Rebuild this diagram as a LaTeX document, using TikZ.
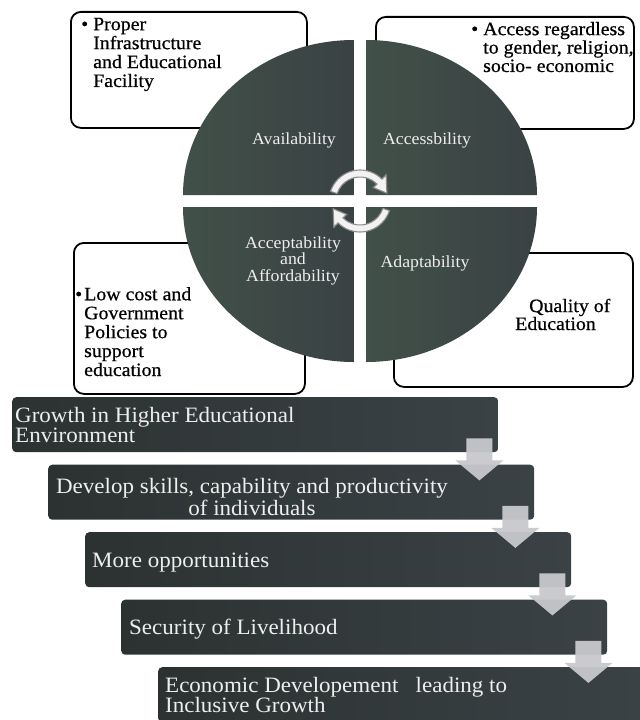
\documentclass[tikz,border=0pt]{standalone}
\usepackage{fontspec}
\setmainfont{Liberation Serif}
\newfontfamily\labelfont[FakeStretch=1.05]{Liberation Serif}
\newfontfamily\notefont[FakeStretch=1.05, FakeBold=0.6]{Liberation Serif}
\usetikzlibrary{calc}

\definecolor{quadlight}{HTML}{415048}
\definecolor{quaddark}{HTML}{3A4244}
\definecolor{stageleft}{HTML}{2C3231}
\definecolor{stagemid}{HTML}{4A574E}
\definecolor{stageright}{HTML}{3A4246}
\definecolor{paletext}{HTML}{EEEEEE}
\definecolor{arrowgrey}{HTML}{C8C8CC}

\tikzset{
  notebox/.style={draw=black, line width=1.8bp, rounded corners=10bp, fill=white,
    anchor=north west, inner sep=0pt},
  notetext/.style={inner sep=0pt, anchor=base west, align=left,
    font=\notefont\fontsize{19}{19}\selectfont},
  quad/.style={left color=quadlight, right color=quaddark},
  quadtext/.style={inner sep=0pt, anchor=base, align=center, text=paletext,
    font=\labelfont\fontsize{17}{16.5}\selectfont},
  stage/.style={rectangle, rounded corners=4bp, minimum width=486bp, minimum height=55bp,
    anchor=north west, inner sep=0pt, left color=stageleft, middle color=stagemid,
    right color=stageright},
  stagetext/.style={inner sep=0pt, anchor=base west, align=left, text=paletext,
    font=\labelfont\fontsize{22}{20.5}\selectfont},
  flowarrow/.style={fill=arrowgrey, fill opacity=0.95},
  cyclearrow/.style={fill=white!90!gray, draw=gray!90, line width=1.1bp},
}

% block arrow hanging from the lower right of a stage into the next one
\newcommand\stagearrow[1]{%
  \fill[flowarrow] ($(#1.south east)+(-32,-14)$) -- ++(26,0) -- ++(0,22) -- ++(11,0)
    -- ++(-24,20) -- ++(-24,-20) -- ++(11,0) -- cycle;}

\begin{document}
\begin{tikzpicture}[x=1bp, y=-1bp]
\useasboundingbox (0,0) rectangle (640,720);
\clip (0,0) rectangle (640,720);

% ---- side notes around the wheel ----
\node[notebox, minimum width=236bp, minimum height=116bp] (infraBox) at (70,11) {};
\node[notebox, minimum width=258bp, minimum height=112bp] (accessBox) at (375,16) {};
\node[notebox, minimum width=231bp, minimum height=151bp] (costBox) at (73,242) {};
\node[notebox, minimum width=239bp, minimum height=134bp] (qualityBox) at (393,252) {};

% multi-line texts are placed by the baseline of their last line
\node[notetext] (infraText) at (93,87)
  {\llap{\textbullet\hspace{5bp}}Proper\\Infrastructure\\and Educational\\Facility};
\node[notetext, font=\notefont\fontsize{19}{18.5}\selectfont] (accessText) at (483,72)
  {\llap{\textbullet\hspace{5bp}}Access regardless\\to gender, religion,\\socio- economic};
\node[notetext] (costText) at (84,376)
  {\llap{\textbullet\hspace{2bp}}Low cost and\\Government\\Policies to\\support\\education};
\node[notetext, font=\notefont\fontsize{19}{18}\selectfont] (qualityText) at (515,330)
  {\hspace*{14bp}Quality of\\Education};

% ---- the four quarters of the wheel ----
\path[quad] (354,195) -- ++(-171,0) arc[start angle=180, end angle=270, x radius=171, y radius=155] -- cycle;
\path[quad] (366,195) -- ++(0,-155) arc[start angle=270, end angle=360, x radius=171, y radius=155] -- cycle;
\path[quad] (366,207) -- ++(171,0) arc[start angle=0, end angle=90, x radius=171, y radius=155] -- cycle;
\path[quad] (354,207) -- ++(0,155) arc[start angle=90, end angle=180, x radius=171, y radius=155] -- cycle;

\node[quadtext] (availability) at (294,144) {Availability};
\node[quadtext] (accessibility) at (427,144) {Accessbility};
\node[quadtext] (acceptability) at (293,281) {Acceptability\\and\\Affordability};
\node[quadtext] (adaptability) at (425,267) {Adaptability};

% ---- cycle arrows in the middle of the wheel ----
\begin{scope}[shift={(360,201)}, yscale=-1]
  \path[cyclearrow] (162:24) arc[start angle=162, end angle=45, radius=24]
    -- (45:19) -- (16:28) -- (45:37) -- (45:31)
    arc[start angle=45, end angle=162, radius=31] -- cycle;
  \path[cyclearrow] (-18:24) arc[start angle=-18, end angle=-135, radius=24]
    -- (-135:19) -- (-164:28) -- (-135:37) -- (-135:31)
    arc[start angle=-135, end angle=-18, radius=31] -- cycle;
\end{scope}

% ---- staircase of outcomes ----
\node[stage] (growth) at (12,397) {};
\node[stage] (skills) at (48,464.5) {};
\node[stage] (opportunities) at (85,532) {};
\node[stage] (security) at (121,599.5) {};
\node[stage] (economic) at (158,667) {};

\node[stagetext] (growthText) at (15,442.5) {Growth in Higher Educational\\Environment};
\node[stagetext, anchor=base, align=center, font=\labelfont\fontsize{22}{22}\selectfont]
  (skillsText) at (252,515) {Develop skills, capability and productivity\\of individuals};
\node[stagetext] (opportunitiesText) at (92,567) {More opportunities};
\node[stagetext] (securityText) at (129,634) {Security of Livelihood};
\node[stagetext] (economicText) at (165,712.5) {Economic Developement\ \ \ leading to\\Inclusive Growth};

\stagearrow{growth}
\stagearrow{skills}
\stagearrow{opportunities}
\stagearrow{security}

\end{tikzpicture}
\end{document}
